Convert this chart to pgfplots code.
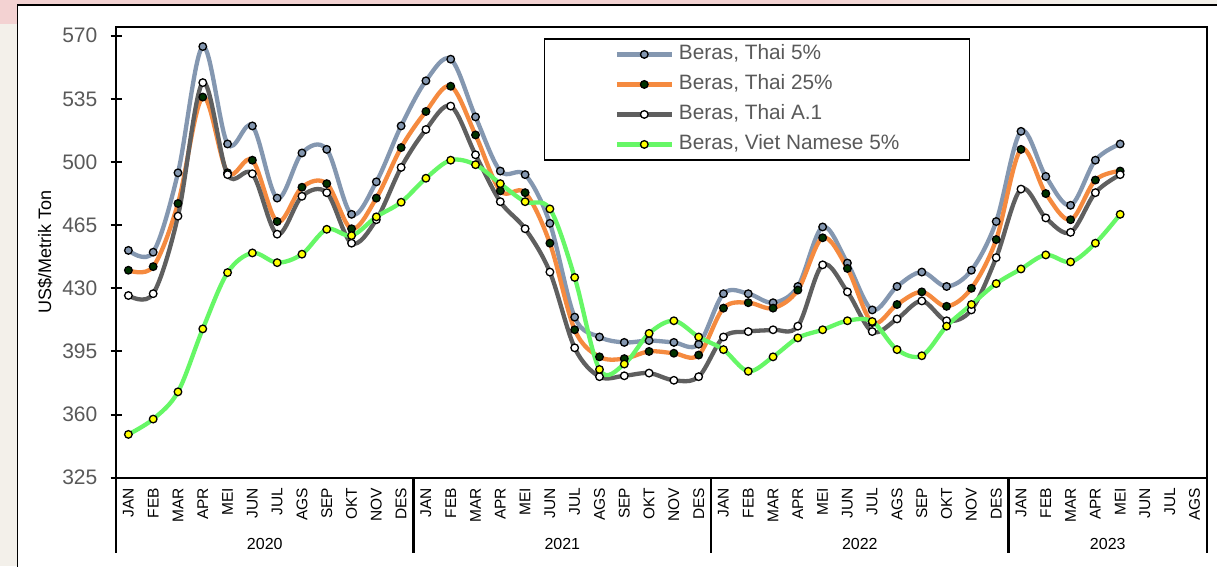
\documentclass[border=0pt]{standalone}
\usepackage{pgfplots}
\pgfplotsset{compat=1.18}
\usepackage{fontspec}
\setmainfont{Liberation Sans}
\definecolor{cThaiA}{HTML}{8497B0}
\definecolor{cThaiB}{HTML}{F58A3F}
\definecolor{cThaiBm}{HTML}{003300}
\definecolor{cThaiC}{HTML}{5F5F5F}
\definecolor{cViet}{HTML}{66F766}
\definecolor{cVietm}{HTML}{FFFF00}
\definecolor{bgbeige}{HTML}{F3F0EA}
\definecolor{bgpink}{HTML}{F3D2D2}
\definecolor{txtgray}{HTML}{595959}
\begin{document}
\begin{tikzpicture}[x=1pt,y=1pt]
\useasboundingbox (0,0) rectangle (1217,566);
\fill[bgbeige] (0,0) rectangle (1217,566);
\fill[bgpink] (0,542) rectangle (820,566);
\shade[left color=bgpink, right color=bgbeige] (820,542) rectangle (1080,566);
\filldraw[fill=white, draw=black, line width=1.6pt] (17.5,-10) rectangle (1230,560.7);
\begin{axis}[
  at={(116pt,88.3pt)}, anchor=south west,
  scale only axis, width=1091pt, height=451pt,
  xmin=-0.5, xmax=43.5, ymin=325, ymax=575,
  clip=false,
  axis line style={line width=2.2pt, black},
  ytick={325,360,395,430,465,500,535,570},
  ytick pos=left, ytick align=center,
  major tick length=11pt,
  ytick style={line width=2pt, black},
  yticklabel style={anchor=east, inner sep=0pt, text=txtgray, font=\fontsize{21}{24}\selectfont},
  yticklabel shift=13pt,
  /pgf/number format/assume math mode=true,
  xtick={0,...,43},
  xtick style={draw=none},
  xticklabels={JAN,FEB,MAR,APR,MEI,JUN,JUL,AGS,SEP,OKT,NOV,DES,
               JAN,FEB,MAR,APR,MEI,JUN,JUL,AGS,SEP,OKT,NOV,DES,
               JAN,FEB,MAR,APR,MEI,JUN,JUL,AGS,SEP,OKT,NOV,DES,
               JAN,FEB,MAR,APR,MEI,JUN,JUL,AGS},
  xticklabel style={rotate=90, anchor=east, inner sep=0pt, text=black, font=\fontsize{15.5}{18}\selectfont},
  xticklabel shift=10pt,
  ylabel={US\$/Metrik Ton},
  ylabel style={at={(axis description cs:-0.065,0.5)}, anchor=center, font=\fontsize{18}{20}\selectfont, text=black},
  legend style={at={(axis description cs:0.3923,0.9743)}, anchor=north west,
    draw=black, line width=1.3pt, inner xsep=70pt, inner ysep=6pt,
    font=\fontsize{20.8}{24}\selectfont, text=txtgray,
    row sep=11pt, column sep=5pt,
    nodes={inner sep=0pt, text height=15pt, text depth=4pt}},
  legend cell align=left,
  legend image code/.code={\draw[#1, mark repeat=2, mark phase=2] plot coordinates {(0pt,0pt) (27.5pt,0pt) (55pt,0pt)};},
  every axis plot/.append style={smooth, tension=0.55, line width=4.3pt, mark=*, mark size=3.8pt},
]
\addplot[cThaiA, mark options={draw=black, fill=cThaiA, line width=1.3pt}] coordinates {
(0,451) (1,450) (2,494) (3,564) (4,510) (5,520) (6,480) (7,505) (8,507) (9,471) (10,489) (11,520)
(12,545) (13,557) (14,525) (15,495) (16,493) (17,466) (18,414) (19,403) (20,400) (21,401) (22,400) (23,399)
(24,427) (25,427) (26,422) (27,431) (28,464) (29,444) (30,418) (31,431) (32,439) (33,431) (34,440) (35,467)
(36,517) (37,492) (38,476) (39,501) (40,510)};
\addlegendentry{Beras, Thai 5\%}
\addplot[cThaiB, mark options={draw=black, fill=cThaiBm, line width=1.3pt}] coordinates {
(0,440) (1,442) (2,477) (3,536) (4,494) (5,501) (6,467) (7,486) (8,488) (9,463) (10,480) (11,508)
(12,528) (13,542) (14,515) (15,484) (16,483) (17,455) (18,407) (19,392) (20,391) (21,395) (22,394) (23,393)
(24,419) (25,422) (26,419) (27,429) (28,458) (29,441) (30,411) (31,421) (32,428) (33,420) (34,430) (35,457)
(36,507) (37,482.5) (38,468) (39,490) (40,495)};
\addlegendentry{Beras, Thai 25\%}
\addplot[cThaiC, mark options={draw=black, fill=white, line width=1.3pt}] coordinates {
(0,426) (1,427) (2,470) (3,544) (4,493) (5,493.5) (6,460) (7,481) (8,483) (9,455) (10,468) (11,497)
(12,518) (13,531) (14,504) (15,478) (16,463) (17,439) (18,397) (19,381) (20,381.5) (21,383) (22,379) (23,381)
(24,403) (25,406) (26,407) (27,409) (28,443) (29,428) (30,406) (31,413) (32,423) (33,412) (34,418) (35,447)
(36,485) (37,469) (38,461) (39,483) (40,493)};
\addlegendentry{Beras, Thai A.1}
\addplot[cViet, mark options={draw=black, fill=cVietm, line width=1.3pt}] coordinates {
(0,349) (1,357.5) (2,372.6) (3,407.5) (4,438.7) (5,449.6) (6,444.2) (7,448.9) (8,462.7) (9,459.2) (10,469.6) (11,477.7)
(12,491) (13,501) (14,498.5) (15,488) (16,478) (17,474) (18,436) (19,385) (20,388) (21,405) (22,412) (23,403)
(24,396) (25,384) (26,392) (27,402.5) (28,407) (29,412) (30,411.6) (31,396) (32,392.6) (33,409) (34,421) (35,432.6)
(36,440.7) (37,448.5) (38,444.6) (39,455) (40,471)};
\addlegendentry{Beras, Viet Namese 5\%}
\pgfplotsinvokeforeach{-0.5,11.5,23.5,35.5,43.5}{
  \draw[line width=2.2pt, black] (axis cs:#1,325) -- (axis cs:#1,283.3);
}
\node[font=\fontsize{16}{18}\selectfont, text=black] at (axis cs:5.5,288.2) {2020};
\node[font=\fontsize{16}{18}\selectfont, text=black] at (axis cs:17.5,288.2) {2021};
\node[font=\fontsize{16}{18}\selectfont, text=black] at (axis cs:29.5,288.2) {2022};
\node[font=\fontsize{16}{18}\selectfont, text=black] at (axis cs:39.5,288.2) {2023};
\end{axis}
\end{tikzpicture}
\end{document}
